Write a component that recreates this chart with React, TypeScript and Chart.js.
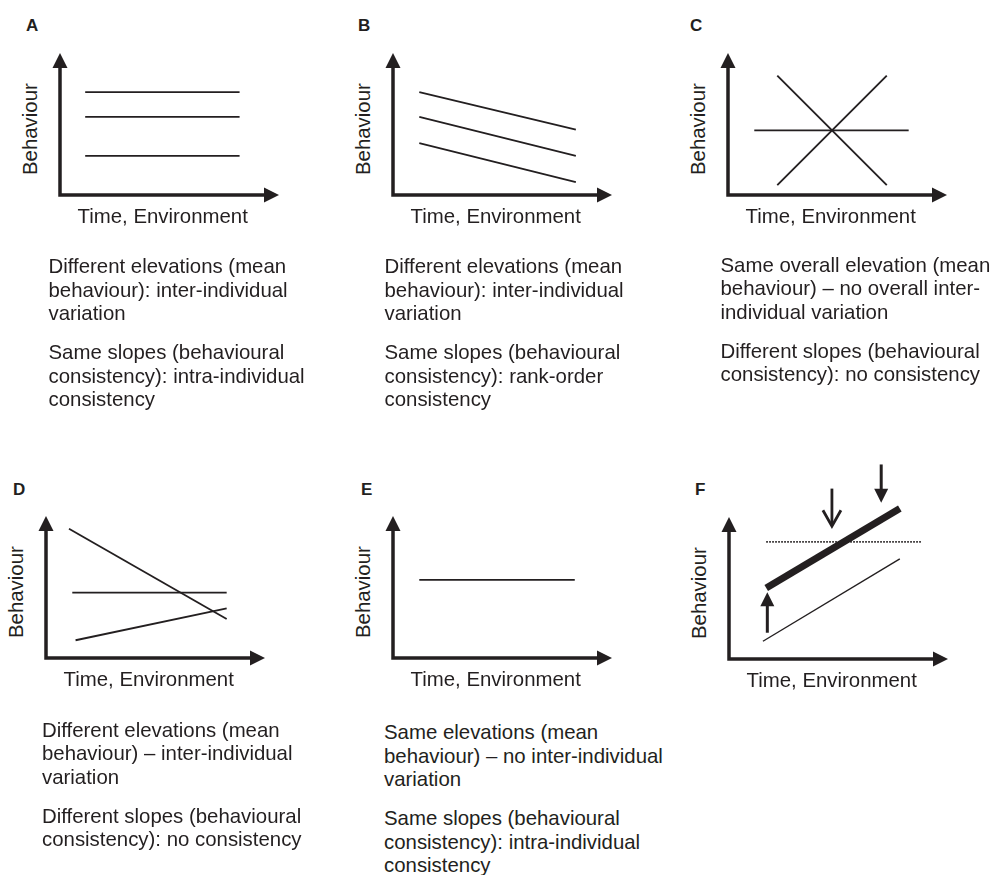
import React, { useEffect, useRef } from "react";
import { Chart, registerables } from "chart.js";

Chart.register(...registerables);

// ---------- data (axis units, 0..10 on both axes) ----------
const panelLabels = ["A", "B", "C", "D", "E", "F"];
const xAxisTitle = "Time, Environment";
const yAxisTitle = "Behaviour";
const axisMax = 10;

// each segment: [xStart, yStart, xEnd, yEnd]
const linesA = [
  [1.15, 7.25, 8.2, 7.25],
  [1.15, 5.5, 8.2, 5.5],
  [1.15, 2.75, 8.2, 2.75],
];
const linesB = [
  [1.2, 7.25, 8.35, 4.6],
  [1.2, 5.5, 8.35, 2.75],
  [1.2, 3.65, 8.35, 0.9],
];
const linesC = [
  [1.2, 4.55, 8.25, 4.55],
  [2.25, 8.4, 7.25, 0.7],
  [2.25, 0.7, 7.25, 8.4],
];
const linesD = [
  [1.05, 9.1, 8.25, 2.75],
  [1.2, 4.6, 8.25, 4.6],
  [1.35, 1.25, 8.25, 3.5],
];
const linesE = [[1.2, 5.5, 8.3, 5.5]];
const linesF = [
  [1.7, 5.0, 7.8, 10.6],
  [1.55, 1.25, 7.8, 7.05],
  [1.7, 8.25, 8.8, 8.25],
];
// annotation arrows of panel F
const arrowX = [1.75, 4.7, 6.95];
const arrowFrom = [1.85, 12.0, 13.7];
const arrowTo = [4.7, 9.35, 11.0];
const arrowKind = ["filled", "open", "filled"];

const textA = [
  ["Different elevations (mean", "behaviour): inter-individual", "variation"],
  ["Same slopes (behavioural", "consistency): intra-individual", "consistency"],
];
const textB = [
  ["Different elevations (mean", "behaviour): inter-individual", "variation"],
  ["Same slopes (behavioural", "consistency): rank-order", "consistency"],
];
const textC = [
  ["Same overall elevation (mean", "behaviour) \u2013 no overall inter-", "individual variation"],
  ["Different slopes (behavioural", "consistency): no consistency"],
];
const textD = [
  ["Different elevations (mean", "behaviour) \u2013 inter-individual", "variation"],
  ["Different slopes (behavioural", "consistency): no consistency"],
];
const textE = [
  ["Same elevations (mean", "behaviour) \u2013 no inter-individual", "variation"],
  ["Same slopes (behavioural", "consistency): intra-individual", "consistency"],
];

// ---------- styles / layout ----------
const INK = "#231f20";
const FONT = '"Liberation Sans", Arial, Helvetica, sans-serif';
const FONT_SIZE = 20.4;
const PLOT_W = 219;
const PLOT_H = 142;
const AXIS_W = 3.5;
const HEAD_L = 15;
const HEAD_W = 15;

type LineStyle = { width: number; dash?: number[] };

const normal: LineStyle = { width: 1.8 };
const panels = [
  { label: 0, ox: 60, oy: 195, padT: 40, lines: linesA, styles: [normal, normal, normal], text: textA, labX: 26, labY: 16.5, txtX: 48.5, txtBase: 274 },
  { label: 1, ox: 393, oy: 195, padT: 40, lines: linesB, styles: [normal, normal, normal], text: textB, labX: 358, labY: 16.5, txtX: 384.5, txtBase: 274 },
  { label: 2, ox: 728, oy: 195, padT: 40, lines: linesC, styles: [normal, normal, normal], text: textC, labX: 690, labY: 16.5, txtX: 720.5, txtBase: 272.5 },
  { label: 3, ox: 46, oy: 658, padT: 60, lines: linesD, styles: [normal, normal, normal], text: textD, labX: 13, labY: 480.5, txtX: 42, txtBase: 737.5 },
  { label: 4, ox: 393, oy: 658, padT: 60, lines: linesE, styles: [normal], text: textE, labX: 361, labY: 481, txtX: 384, txtBase: 740 },
  {
    label: 5, ox: 729, oy: 659, padT: 60, lines: linesF,
    styles: [{ width: 7 }, { width: 1.4 }, { width: 1.6, dash: [1.6, 1.4] }],
    text: null, labX: 695, labY: 480.5, txtX: 0, txtBase: 0, arrows: true,
  },
];

const PAD_L = 14;
const PAD_R = 14;
const PAD_B = 12;

const arrowAxesPlugin = {
  id: "arrowAxes",
  beforeDatasetsDraw(chart: any) {
    const { ctx, scales } = chart;
    const x0 = scales.x.getPixelForValue(0);
    const x1 = scales.x.getPixelForValue(axisMax);
    const y0 = scales.y.getPixelForValue(0);
    const y1 = scales.y.getPixelForValue(axisMax);
    ctx.save();
    ctx.strokeStyle = INK;
    ctx.fillStyle = INK;
    ctx.lineWidth = AXIS_W;
    ctx.lineJoin = "miter";
    ctx.lineCap = "butt";
    ctx.beginPath();
    ctx.moveTo(x0, y1 + HEAD_L - 1);
    ctx.lineTo(x0, y0);
    ctx.lineTo(x1 - HEAD_L + 1, y0);
    ctx.stroke();
    ctx.beginPath();
    ctx.moveTo(x0, y1);
    ctx.lineTo(x0 - HEAD_W / 2, y1 + HEAD_L);
    ctx.lineTo(x0 + HEAD_W / 2, y1 + HEAD_L);
    ctx.closePath();
    ctx.fill();
    ctx.beginPath();
    ctx.moveTo(x1, y0);
    ctx.lineTo(x1 - HEAD_L, y0 - HEAD_W / 2);
    ctx.lineTo(x1 - HEAD_L, y0 + HEAD_W / 2);
    ctx.closePath();
    ctx.fill();
    ctx.restore();
  },
};

const annotationArrowsPlugin = {
  id: "annotationArrows",
  afterDatasetsDraw(chart: any) {
    const { ctx, scales } = chart;
    ctx.save();
    ctx.strokeStyle = INK;
    ctx.fillStyle = INK;
    ctx.lineCap = "butt";
    arrowX.forEach((xv, i) => {
      const px = scales.x.getPixelForValue(xv);
      const pFrom = scales.y.getPixelForValue(arrowFrom[i]);
      const pTo = scales.y.getPixelForValue(arrowTo[i]);
      const dir = pTo > pFrom ? 1 : -1; // +1 pointing down on screen
      const hl = 14;
      const hw = 14;
      if (arrowKind[i] === "filled") {
        ctx.lineWidth = 3;
        ctx.beginPath();
        ctx.moveTo(px, pFrom);
        ctx.lineTo(px, pTo - dir * (hl - 1));
        ctx.stroke();
        ctx.beginPath();
        ctx.moveTo(px, pTo);
        ctx.lineTo(px - hw / 2, pTo - dir * hl);
        ctx.lineTo(px + hw / 2, pTo - dir * hl);
        ctx.closePath();
        ctx.fill();
      } else {
        ctx.lineWidth = 2.8;
        ctx.beginPath();
        ctx.moveTo(px, pFrom);
        ctx.lineTo(px, pTo - dir * 1.5);
        ctx.stroke();
        ctx.lineJoin = "miter";
        ctx.beginPath();
        ctx.moveTo(px - 9, pTo - dir * 16);
        ctx.lineTo(px, pTo);
        ctx.lineTo(px + 9, pTo - dir * 16);
        ctx.stroke();
      }
    });
    ctx.restore();
  },
};

function PanelChart({ p }: { p: any }) {
  const ref = useRef<HTMLCanvasElement>(null);
  const cw = PAD_L + PLOT_W + PAD_R;
  const ch = p.padT + PLOT_H + PAD_B;
  const left = p.ox - PAD_L;
  const top = p.oy - PLOT_H - p.padT;

  useEffect(() => {
    if (!ref.current) return;
    const datasets = p.lines.map((seg: number[], i: number) => ({
      data: [
        { x: seg[0], y: seg[1] },
        { x: seg[2], y: seg[3] },
      ],
      borderColor: INK,
      borderWidth: p.styles[i].width,
      borderDash: p.styles[i].dash || [],
      borderCapStyle: "butt",
      pointRadius: 0,
      fill: false,
      tension: 0,
      clip: false,
    }));
    const chart = new Chart(ref.current, {
      type: "line",
      data: { datasets },
      options: {
        animation: false,
        responsive: false,
        events: [],
        layout: { padding: { left: PAD_L, right: PAD_R, top: p.padT, bottom: PAD_B } },
        plugins: { legend: { display: false }, tooltip: { enabled: false }, title: { display: false } },
        scales: {
          x: { type: "linear", min: 0, max: axisMax, display: false },
          y: { type: "linear", min: 0, max: axisMax, display: false },
        },
      },
      plugins: p.arrows ? [arrowAxesPlugin, annotationArrowsPlugin] : [arrowAxesPlugin],
    } as any);
    return () => chart.destroy();
  }, []);

  return (
    <canvas
      ref={ref}
      width={cw}
      height={ch}
      style={{ position: "absolute", left, top, width: cw, height: ch }}
    />
  );
}

const textStyle: React.CSSProperties = {
  position: "absolute",
  fontFamily: FONT,
  fontSize: FONT_SIZE,
  color: INK,
  whiteSpace: "nowrap",
  margin: 0,
};

export default function App() {
  return (
    <div
      style={{
        position: "absolute",
        left: 0,
        top: 0,
        width: 993,
        height: 875,
        overflow: "hidden",
        background: "#ffffff",
      }}
    >
      {panels.map((p, idx) => (
        <React.Fragment key={idx}>
          <PanelChart p={p} />
          <div
            style={{
              ...textStyle,
              left: p.labX,
              top: p.labY,
              fontSize: 17,
              lineHeight: "17px",
              fontWeight: "bold",
            }}
          >
            {panelLabels[p.label]}
          </div>
          <div
            style={{
              ...textStyle,
              left: p.ox + 17.5,
              top: p.oy + 10.7,
              lineHeight: "20px",
            }}
          >
            {xAxisTitle}
          </div>
          <div
            style={{
              ...textStyle,
              left: p.ox - 40,
              top: p.oy - 20.5,
              lineHeight: "20px",
              transformOrigin: "left top",
              transform: "rotate(-90deg)",
            }}
          >
            {yAxisTitle}
          </div>
          {p.text && (
            <div
              style={{
                ...textStyle,
                left: p.txtX,
                top: p.txtBase - 19,
                lineHeight: "23.5px",
              }}
            >
              {p.text.map((para: string[], k: number) => (
                <div key={k} style={{ marginTop: k === 0 ? 0 : 15.5 }}>
                  {para.map((ln, j) => (
                    <div key={j}>{ln}</div>
                  ))}
                </div>
              ))}
            </div>
          )}
        </React.Fragment>
      ))}
    </div>
  );
}
